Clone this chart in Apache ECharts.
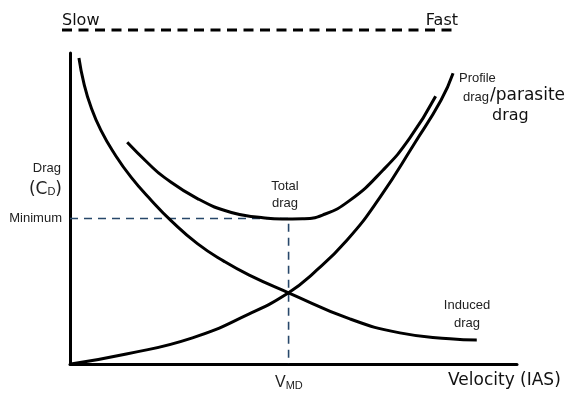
<!DOCTYPE html>
<html>
<head>
<meta charset="utf-8">
<script src="https://cdn.jsdelivr.net/npm/echarts@6/dist/echarts.min.js"></script>
<style>html,body{margin:0;padding:0;background:#fff}#c{width:578px;height:396px}</style>
</head>
<body>
<div id="c"></div>
<script>
// Values (speed 0-100, drag 0-100)
var inducedX = [2.0, 3.1, 4.7, 6.9, 9.9, 13.7, 18.2, 22.6, 28.5, 34.5, 40.1, 48.9, 62.6, 73.8, 85.0, 91.0];
var inducedY = [98.4, 90.3, 82.6, 75.2, 67.7, 60.0, 52.6, 46.1, 38.7, 33.0, 28.6, 22.9, 14.5, 10.0, 8.1, 7.7];
var profileX = [0.2, 12.6, 27.4, 40.1, 48.9, 54.3, 61.9, 69.3, 77.1, 83.0, 85.7];
var profileY = [0, 3.2, 8.4, 16.1, 22.9, 29.0, 39.7, 53.5, 71.0, 84.8, 93.5];
var totalX = [12.8, 17.3, 21.1, 28.5, 36.1, 42.8, 47.5, 52.0, 56.5, 62.6, 70.0, 76.0, 81.8];
var totalY = [71.3, 64.8, 60.0, 53.2, 48.7, 47.1, 46.6, 46.7, 47.9, 52.6, 62.3, 72.6, 86.1];
var minDrag = 46.8;
var vmd = 48.9;

function pairs(xs, ys) { return xs.map(function (x, i) { return [x, ys[i]]; }); }

var chart = echarts.init(document.getElementById('c'), null, {renderer: 'canvas'});
var curveStyle = {color: '#000', width: 3};
var guideStyle = {color: '#27476a', width: 1.6, type: [8, 6]};
var small = 'Liberation Sans, Arial, sans-serif';
var big = 'DejaVu Sans, Verdana, sans-serif';

function curve(name, xs, ys) {
  return {type: 'line', name: name, data: pairs(xs, ys), smooth: 0.5,
    showSymbol: false, lineStyle: curveStyle, z: 3};
}

chart.setOption({
  animation: false,
  grid: {left: 70, right: 61, top: 53, bottom: 32},
  xAxis: {type: 'value', min: 0, max: 100,
    axisLine: {show: true, lineStyle: {color: '#000', width: 3}},
    axisTick: {show: false}, axisLabel: {show: false}, splitLine: {show: false}},
  yAxis: {type: 'value', min: 0, max: 100,
    axisLine: {show: true, lineStyle: {color: '#000', width: 3}},
    axisTick: {show: false}, axisLabel: {show: false}, splitLine: {show: false}},
  series: [
    {type: 'line', data: [[0, minDrag], [vmd, minDrag], [vmd, 0]], showSymbol: false,
      lineStyle: guideStyle, z: 1},
    curve('Induced drag', inducedX, inducedY),
    curve('Profile drag', profileX, profileY),
    curve('Total drag', totalX, totalY)
  ],
  graphic: [
    {type: 'line', shape: {x1: 62, y1: 30, x2: 458, y2: 30},
      style: {stroke: '#000', lineWidth: 3, lineDash: [10, 6.5]}},
    {type: 'text', x: 62, y: 21, style: {text: 'Slow', font: '16px ' + big, fill: '#111', textVerticalAlign: 'middle'}},
    {type: 'text', x: 458, y: 21, style: {text: 'Fast', font: '16px ' + big, fill: '#111', textAlign: 'right', textVerticalAlign: 'middle'}},
    {type: 'text', x: 61, y: 168, style: {text: 'Drag', font: '13px ' + small, fill: '#222', textAlign: 'right', textVerticalAlign: 'middle'}},
    {type: 'text', x: 62, y: 188, style: {text: '{a|(C}{s|D}{a|)}', textAlign: 'right', textVerticalAlign: 'middle',
      rich: {a: {fontSize: 17, fontFamily: big, fill: '#222', lineHeight: 20, verticalAlign: 'bottom'},
             s: {fontSize: 11, fontFamily: small, fill: '#222', lineHeight: 20, verticalAlign: 'bottom', padding: [0, 0, 1, 0]}}}},
    {type: 'text', x: 62, y: 218, style: {text: 'Minimum', font: '13px ' + small, fill: '#222', textAlign: 'right', textVerticalAlign: 'middle'}},
    {type: 'text', x: 285, y: 186, style: {text: 'Total', font: '13px ' + small, fill: '#222', textAlign: 'center', textVerticalAlign: 'middle'}},
    {type: 'text', x: 285, y: 203, style: {text: 'drag', font: '13px ' + small, fill: '#222', textAlign: 'center', textVerticalAlign: 'middle'}},
    {type: 'text', x: 459, y: 78, style: {text: 'Profile', font: '13px ' + small, fill: '#222', textVerticalAlign: 'middle'}},
    {type: 'text', x: 463, y: 97, style: {text: 'drag', font: '13px ' + small, fill: '#222', textVerticalAlign: 'middle'}},
    {type: 'text', x: 490, y: 96, style: {text: '/parasite', font: '17px ' + big, fill: '#111', textVerticalAlign: 'middle'}},
    {type: 'text', x: 492, y: 116, style: {text: 'drag', font: '16px ' + big, fill: '#111', textVerticalAlign: 'middle'}},
    {type: 'text', x: 467, y: 305, style: {text: 'Induced', font: '13px ' + small, fill: '#222', textAlign: 'center', textVerticalAlign: 'middle'}},
    {type: 'text', x: 467, y: 323, style: {text: 'drag', font: '13px ' + small, fill: '#222', textAlign: 'center', textVerticalAlign: 'middle'}},
    {type: 'text', x: 275, y: 382, style: {text: '{v|V}{s|MD}', textVerticalAlign: 'middle',
      rich: {v: {fontSize: 16, fontFamily: small, fill: '#222', lineHeight: 18, verticalAlign: 'bottom'},
             s: {fontSize: 11, fontFamily: small, fill: '#222', lineHeight: 18, verticalAlign: 'bottom'}}}},
    {type: 'text', x: 448, y: 381, style: {text: 'Velocity (IAS)', font: '17px ' + big, fill: '#111', textVerticalAlign: 'middle'}}
  ]
});
</script>
</body>
</html>
